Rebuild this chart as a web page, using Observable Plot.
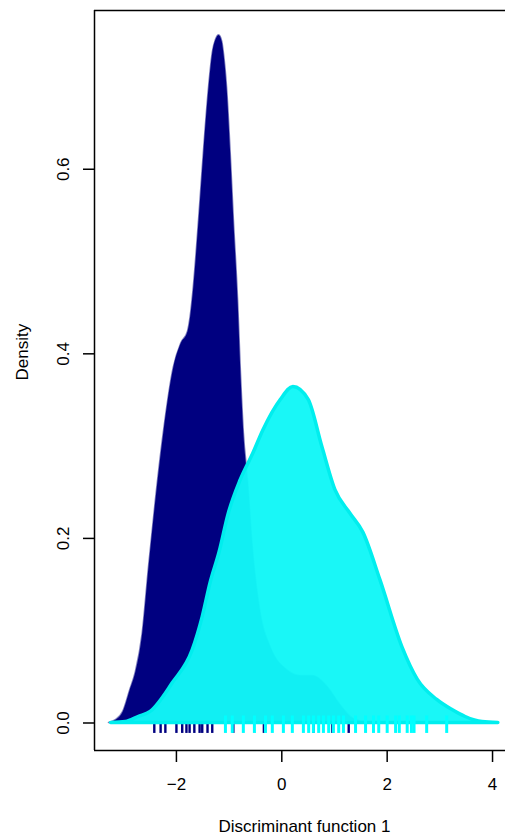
<!DOCTYPE html>
<html>
<head>
<meta charset="utf-8">
<script src="https://cdn.jsdelivr.net/npm/d3@7"></script>
<script src="https://cdn.jsdelivr.net/npm/@observablehq/plot@0.6"></script>
<style>
  html, body { margin: 0; padding: 0; background: #fff; }
  #chart svg { display: block; }
</style>
</head>
<body>
<div id="chart"></div>
<script>
// Density curve of group 1 (navy)
const group1X = [-3.28, -3.15, -3.01, -2.88, -2.77, -2.64, -2.52, -2.39, -2.24, -2.05, -1.91, -1.78, -1.73, -1.67, -1.57, -1.48, -1.38, -1.31, -1.25, -1.19, -1.13, -1.10, -1.04, -0.97, -0.91, -0.83, -0.78, -0.72, -0.64, -0.55, -0.40, -0.21, 0.11, 0.36, 0.59, 0.87, 1.12, 1.35, 1.59, 1.88];
const group1Density = [0, 0.003, 0.012, 0.035, 0.055, 0.097, 0.169, 0.241, 0.314, 0.385, 0.411, 0.424, 0.440, 0.472, 0.545, 0.617, 0.689, 0.726, 0.740, 0.745, 0.738, 0.726, 0.689, 0.617, 0.545, 0.458, 0.385, 0.314, 0.263, 0.191, 0.119, 0.082, 0.057, 0.051, 0.051, 0.039, 0.019, 0.005, 0.001, 0];

// Density curve of group 2 (cyan)
const group2X = [-3.24, -2.96, -2.72, -2.49, -2.07, -1.69, -1.50, -1.35, -1.18, -1.01, -0.78, -0.54, -0.35, -0.02, 0.22, 0.51, 0.77, 1.02, 1.30, 1.55, 1.87, 2.29, 2.58, 2.95, 3.24, 3.49, 3.81, 4.11];
const group2Density = [0, 0.001, 0.0065, 0.012, 0.043, 0.079, 0.115, 0.152, 0.185, 0.226, 0.263, 0.292, 0.317, 0.350, 0.364, 0.350, 0.299, 0.252, 0.227, 0.206, 0.155, 0.082, 0.047, 0.025, 0.014, 0.0065, 0.001, 0];

// Rug (individual scores)
const group1Rug = [-2.42, -2.30, -2.21, -2.00, -1.89, -1.81, -1.75, -1.66, -1.56, -1.51, -1.41, -1.32, -0.92, -0.34, 0.60, 0.96, 1.27];
const group2Rug = [-1.07, -0.94, -0.73, -0.52, -0.31, -0.18, 0.03, 0.20, 0.41, 0.51, 0.60, 0.70, 0.79, 0.89, 0.98, 1.08, 1.17, 1.40, 1.59, 1.74, 1.84, 2.00, 2.16, 2.23, 2.38, 2.46, 2.51, 2.75, 3.13];

// Axis ticks and labels
const xTicks = [-2, 0, 2, 4];
const yTicks = [0, 0.2, 0.4, 0.6];
const xTitle = "Discriminant function 1";
const yTitle = "Density";

const group1 = group1X.map((x, i) => ({x, y: group1Density[i]}));
const group2 = group2X.map((x, i) => ({x, y: group2Density[i]}));

const xDomain = [-3.555, 4.246];
const yDomain = [-0.0298, 0.772];
const rugTop = 0.0076, rugBottom = -0.0113;

const chart = Plot.plot({
  width: 505,
  height: 838,
  marginLeft: 94,
  marginRight: 0,
  marginTop: 10,
  marginBottom: 88,
  style: {fontFamily: "'Liberation Sans', Arial, Helvetica, sans-serif", fontSize: "17px", color: "black", background: "white", overflow: "visible"},
  x: {domain: xDomain},
  y: {domain: yDomain},
  marks: [
    Plot.areaY(group1, {x: "x", y: "y", fill: "#000080", stroke: "#000080", strokeOpacity: 0.5, strokeWidth: 1.6, curve: "monotone-x"}),
    Plot.ruleX(group1Rug, {x: d => d, y1: 0, y2: rugBottom, stroke: "#000080", strokeWidth: 2.4}),
    Plot.areaY(group2, {x: "x", y: "y", fill: "#12F7F7", fillOpacity: 0.97, stroke: "#00EEEE", strokeWidth: 3.5, strokeLinejoin: "round", strokeLinecap: "round", curve: "monotone-x"}),
    Plot.ruleX(group2Rug, {x: d => d, y1: rugTop, y2: rugBottom, stroke: "#00FFFF", strokeWidth: 3}),
    Plot.ruleY([yDomain[0], yDomain[1]], {stroke: "black", strokeWidth: 1.5}),
    Plot.ruleX([xDomain[0]], {stroke: "black", strokeWidth: 1.5}),
    Plot.axisX({ticks: xTicks, tickSize: 12, tickPadding: 15, strokeWidth: 1.5, label: null}),
    Plot.axisY({ticks: yTicks, tickSize: 11, tickPadding: 15, tickRotate: -90, tickFormat: d3.format(".1f"), strokeWidth: 1.5, label: null}),
    Plot.text([xTitle], {frameAnchor: "bottom", dy: 76, dx: 4.5, lineAnchor: "middle", fill: "black"}),
    Plot.text([yTitle], {frameAnchor: "left", dx: -72, rotate: -90, lineAnchor: "middle", fill: "black"})
  ]
});
document.getElementById("chart").appendChild(chart);
</script>
</body>
</html>
